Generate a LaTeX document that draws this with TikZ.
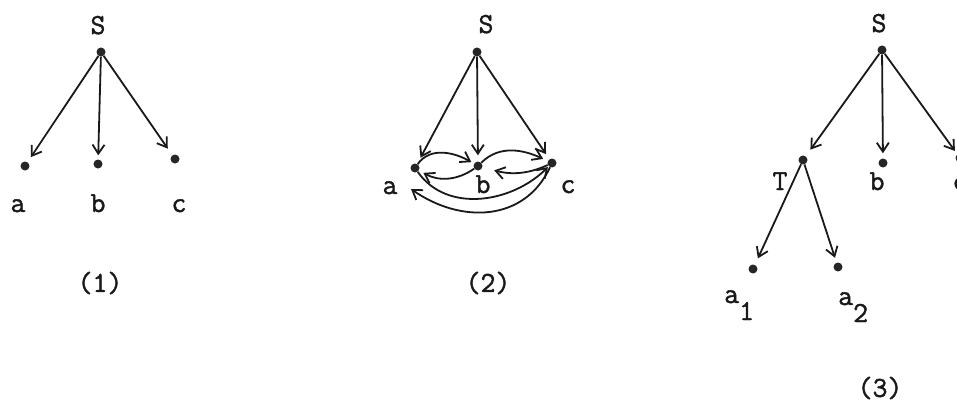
\documentclass[tikz,border=0pt]{standalone}
\usepackage{fontspec}
\newfontfamily\twfont{Latin Modern Mono}[FakeBold=1.5]
\usetikzlibrary{arrows.meta}
\begin{document}
\begin{tikzpicture}[x=1pt,y=1pt,
  dot/.style={circle,fill=black!85,draw=none,inner sep=0pt,minimum size=9pt},
  lbl/.style={font=\fontsize{29}{34}\selectfont\twfont,inner sep=0pt,text=black!90},
  arr/.style={draw=black!90,line width=1.8pt,-{Straight Barb[length=9pt,width=12pt,line width=1.8pt]},shorten >=#1},
  arr/.default=5pt]
\useasboundingbox (0,0) rectangle (957,-404);
\clip (0,0) rectangle (957,-404);
\fill[white] (0,0) rectangle (957,-404);

% ---------- panel 1 ----------
\node[dot] (S1) at (101,-52) {};
\node[dot] (a1) at (25,-166) {};
\node[dot] (b1) at (98,-164) {};
\node[dot] (c1) at (175,-159) {};
\node[lbl,anchor=base] (lS1) at (98,-34) {S};
\node[lbl,anchor=base] (la1) at (18,-212) {a};
\node[lbl,anchor=base] (lb1) at (98,-212) {b};
\node[lbl,anchor=base] (lc1) at (179,-212) {c};
\node[lbl] (n1) at (100,-283) {(1)};
\draw[arr=6pt] (S1) -- (a1);
\draw[arr=4pt] (S1) -- (b1);
\draw[arr=8pt] (S1) -- (c1);

% ---------- panel 2 ----------
\node[dot] (S2) at (477,-52) {};
\node[dot] (a2) at (415,-168) {};
\node[dot] (b2) at (478,-166) {};
\node[dot] (c2) at (552,-163) {};
\node[lbl,anchor=base] (lS2) at (486,-33) {S};
\node[lbl,anchor=base] (la2) at (390,-194) {a};
\node[lbl,anchor=base] (lb2) at (483,-193) {b};
\node[lbl,anchor=base] (lc2) at (568,-193) {c};
\node[lbl] (n2) at (488,-283) {(2)};
\draw[arr=7pt] (S2) -- (a2);
\draw[arr=6pt] (S2) -- (b2);
\draw[arr=6pt] (S2) -- (c2);
\draw[arr=3pt] (a2) to[out=55,in=150] (b2);
\draw[arr=5pt] (b2) to[out=45,in=155] (c2);
\draw[arr=5pt] (b2) to[out=215,in=-30] (a2);
\draw[arr=12pt] (c2) to[out=205,in=-15] (b2);
\draw[arr=1pt] (a2) to[out=-55,in=-135] (c2);
\coordinate (ca) at (411,-189);
\draw[arr=0pt] (c2) to[out=-115,in=-35,looseness=1.1] (ca);

% ---------- panel 3 ----------
\node[dot] (S3) at (882,-50) {};
\node[dot] (T3) at (803,-160) {};
\node[dot] (b3) at (883,-163) {};
\node[dot] (c3) at (960,-158) {};
\node[dot] (x1) at (753,-269) {};
\node[dot] (x2) at (838,-267) {};
\node[lbl,anchor=base] (lS3) at (879,-32) {S};
\node[lbl,anchor=base] (lT3) at (780,-190) {T};
\node[lbl,anchor=base] (lb3) at (877,-190) {b};
\node[lbl,anchor=base] (lc3) at (960,-190) {c};
\node[lbl,anchor=base west] (lx1) at (724,-303) {a\raisebox{-17pt}{1}};
\node[lbl,anchor=base west] (lx2) at (838,-305) {a\raisebox{-17pt}{2}};
\node[lbl] (n3) at (880,-388) {(3)};
\draw[arr=8pt] (S3) -- (T3);
\draw[arr=5pt] (S3) -- (b3);
\draw[arr=4pt] (S3) -- (c3);
\draw[arr=7pt] (T3) -- (x1);
\draw[arr=5pt] (T3) -- (x2);
\end{tikzpicture}
\end{document}
